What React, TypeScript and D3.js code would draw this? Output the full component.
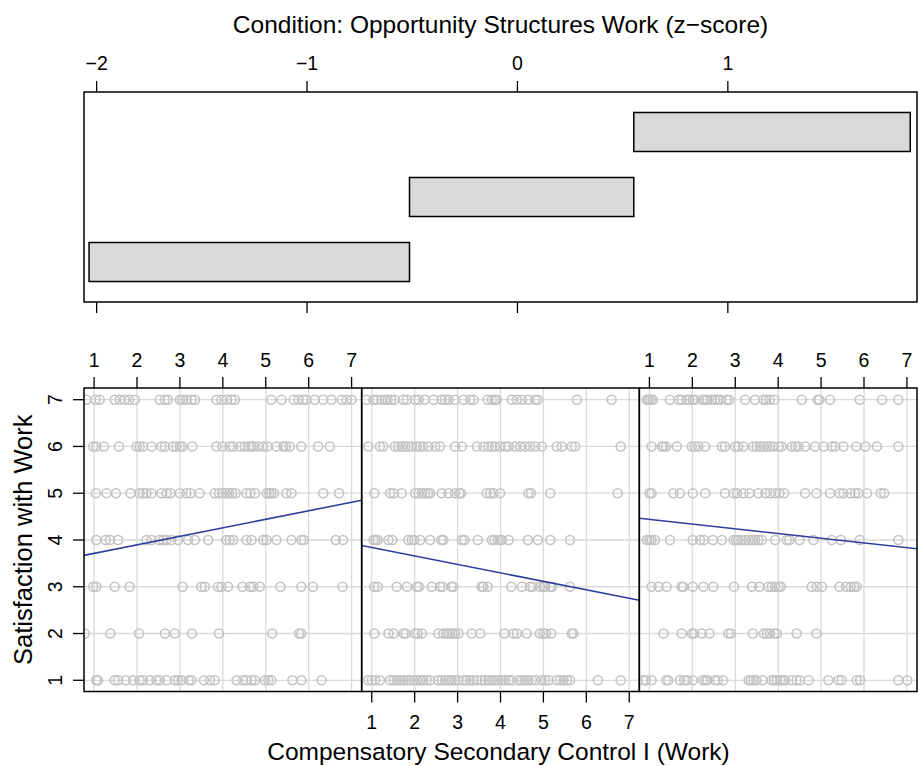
import React from 'react';
import * as d3 from 'd3';

const W = 919;
const H = 766;

// ---- top panel (shingle) ----
const topTicks = [-2, -1, 0, 1];
const topTickLabels = ['−2', '−1', '0', '1'];
const shingleLevels = [1, 2, 3];
const shingleLower = [-2.036, -0.513, 0.553];
const shingleUpper = [-0.513, 0.553, 1.867];

// ---- scatter panels ----
const xTicks = [1, 2, 3, 4, 5, 6, 7];
const yTicks = [1, 2, 3, 4, 5, 6, 7];

const lowPanelRows: [number, number[]][] = [
  [7, [0.82, 1.03, 1.13, 1.48, 1.6, 1.71, 1.82, 1.95, 2.53, 2.65, 2.72, 3.0, 3.06, 3.15, 3.27, 3.35, 3.85, 3.97, 4.09, 4.2, 4.28, 5.13, 5.37, 5.65, 5.76, 5.87, 5.95, 6.14, 6.34, 6.53, 6.77, 6.88, 7.0]],
  [6, [0.98, 1.05, 1.23, 1.58, 1.99, 2.06, 2.14, 2.34, 2.57, 2.65, 2.84, 2.92, 3.0, 3.06, 3.29, 3.85, 3.99, 4.16, 4.24, 4.4, 4.51, 4.61, 4.67, 4.72, 4.82, 4.94, 5.04, 5.25, 5.41, 5.47, 5.56, 5.83, 6.22, 6.49]],
  [5, [1.04, 1.29, 1.51, 1.85, 2.06, 2.14, 2.22, 2.34, 2.57, 2.69, 2.78, 3.0, 3.15, 3.25, 3.46, 3.81, 3.91, 3.99, 4.07, 4.15, 4.22, 4.3, 4.55, 4.64, 4.75, 5.02, 5.08, 5.13, 5.19, 5.48, 5.6, 6.34, 6.71]],
  [4, [1.05, 1.27, 1.37, 1.56, 2.22, 2.34, 2.52, 2.61, 2.69, 2.8, 2.96, 3.19, 3.35, 3.66, 4.08, 4.16, 4.24, 4.55, 4.67, 4.94, 5.02, 5.25, 5.6, 5.83, 5.89, 6.63, 6.8]],
  [3, [0.98, 1.05, 1.48, 1.83, 3.06, 3.5, 3.58, 3.89, 3.97, 4.12, 4.46, 4.63, 4.71, 4.86, 5.34, 5.83, 6.1, 6.79]],
  [2, [0.78, 1.38, 2.05, 2.65, 2.88, 3.28, 3.91, 5.15, 5.78, 5.83]],
  [1, [1.05, 1.09, 1.48, 1.56, 1.74, 1.91, 2.06, 2.14, 2.3, 2.45, 2.53, 2.69, 2.88, 2.96, 3.04, 3.21, 3.27, 3.56, 3.7, 3.81, 4.32, 4.47, 4.55, 4.67, 4.75, 4.98, 5.06, 5.13, 5.62, 5.83, 6.3]],
];

const midPanelRows: [number, number[]][] = [
  [7, [0.88, 1.04, 1.12, 1.23, 1.31, 1.37, 1.45, 1.53, 1.74, 1.82, 2.01, 2.09, 2.24, 2.44, 2.63, 2.71, 2.79, 2.94, 3.14, 3.29, 3.37, 3.7, 3.8, 3.87, 3.91, 4.26, 4.38, 4.5, 4.65, 4.81, 4.87, 5.78, 6.59]],
  [6, [0.92, 1.19, 1.27, 1.54, 1.62, 1.7, 1.78, 1.85, 1.93, 2.05, 2.13, 2.2, 2.32, 2.48, 2.59, 2.94, 3.1, 3.45, 3.6, 3.72, 3.8, 3.87, 3.99, 4.11, 4.19, 4.34, 4.46, 4.57, 4.69, 4.81, 4.96, 5.31, 5.43, 5.66, 5.74, 6.8]],
  [5, [1.06, 1.43, 1.51, 1.7, 2.01, 2.09, 2.17, 2.24, 2.31, 2.36, 2.63, 2.79, 2.94, 3.04, 3.08, 3.68, 3.76, 3.84, 3.99, 4.65, 4.71, 5.16, 6.73]],
  [4, [1.04, 1.09, 1.14, 1.39, 1.48, 1.85, 1.93, 1.99, 2.13, 2.36, 2.62, 2.67, 3.1, 3.16, 3.47, 3.8, 3.86, 3.94, 3.99, 4.03, 4.19, 4.64, 4.87, 5.16, 5.62]],
  [3, [1.06, 1.14, 1.58, 1.82, 2.05, 2.1, 2.4, 2.59, 2.65, 2.86, 2.9, 3.56, 3.6, 3.7, 4.25, 4.5, 4.69, 4.75, 4.92, 5.0, 5.04, 5.16, 5.2, 5.62]],
  [2, [1.06, 1.39, 1.51, 1.74, 1.79, 2.01, 2.07, 2.17, 2.55, 2.67, 2.75, 2.8, 2.88, 2.94, 3.02, 3.33, 3.53, 4.09, 4.3, 4.38, 4.61, 4.92, 5.0, 5.06, 5.18, 5.66, 5.7]],
  [1, [0.92, 1.0, 1.08, 1.19, 1.43, 1.51, 1.58, 1.66, 1.74, 1.82, 1.89, 1.97, 2.05, 2.13, 2.2, 2.28, 2.36, 2.55, 2.63, 2.71, 2.79, 2.86, 2.94, 3.02, 3.14, 3.21, 3.29, 3.37, 3.45, 3.56, 3.64, 3.72, 3.8, 3.87, 3.95, 4.03, 4.11, 4.19, 4.26, 4.42, 4.5, 4.57, 4.65, 4.73, 4.81, 4.96, 5.04, 5.12, 5.31, 5.39, 5.47, 5.55, 5.62, 6.27, 6.8]],
];

const highPanelRows: [number, number[]][] = [
  [7, [0.94, 0.98, 1.03, 1.08, 1.48, 1.68, 1.75, 1.87, 1.93, 2.01, 2.06, 2.24, 2.3, 2.35, 2.45, 2.53, 2.59, 2.65, 2.8, 2.86, 3.23, 3.46, 3.66, 3.72, 3.8, 3.91, 4.55, 4.92, 4.96, 5.21, 5.9, 6.42, 6.8]],
  [6, [1.05, 1.29, 1.33, 1.39, 1.64, 1.99, 2.06, 2.14, 2.3, 2.69, 2.76, 3.0, 3.07, 3.19, 3.42, 3.5, 3.58, 3.66, 3.74, 3.81, 3.89, 4.01, 4.08, 4.32, 4.4, 4.47, 4.63, 4.86, 5.06, 5.25, 5.33, 5.52, 5.82, 6.03, 6.3, 6.8]],
  [5, [1.0, 1.05, 1.56, 1.71, 2.01, 2.3, 2.76, 2.96, 3.04, 3.19, 3.33, 3.54, 3.7, 3.81, 3.93, 4.03, 4.14, 4.63, 4.89, 5.21, 5.43, 5.52, 5.68, 5.79, 5.87, 6.07, 6.39, 6.47]],
  [4, [0.94, 1.0, 1.05, 1.13, 1.48, 2.01, 2.18, 2.27, 2.48, 2.69, 2.96, 3.02, 3.07, 3.15, 3.23, 3.31, 3.39, 3.46, 3.54, 3.62, 3.93, 4.2, 4.26, 4.5, 4.82, 5.25, 5.46, 5.9, 6.8]],
  [3, [1.05, 1.21, 1.4, 1.75, 1.79, 2.01, 2.26, 2.49, 2.97, 3.39, 3.56, 3.77, 3.85, 3.93, 4.01, 4.06, 4.78, 4.9, 5.02, 5.43, 5.58, 5.69, 5.77, 5.83]],
  [2, [1.33, 1.75, 1.99, 2.04, 2.22, 2.4, 2.84, 2.9, 3.41, 3.67, 3.74, 3.81, 3.91, 3.97, 4.43, 4.89]],
  [1, [0.86, 0.92, 1.05, 1.39, 1.44, 1.71, 1.81, 1.87, 2.01, 2.24, 2.3, 2.35, 2.53, 2.59, 2.72, 3.31, 3.36, 3.42, 3.49, 3.64, 3.85, 3.91, 3.97, 4.05, 4.11, 4.16, 4.32, 4.43, 4.51, 4.71, 5.17, 5.41, 5.48, 5.83, 5.91, 6.8, 7.01]],
];

const panelRows = [lowPanelRows, midPanelRows, highPanelRows];
const regressionIntercepts = [3.53, 4.02, 4.54];
const regressionSlopes = [0.1824, -0.181, -0.1005];

const titleText = 'Condition: Opportunity Structures Work (z−score)';
const xTitleText = 'Compensatory Secondary Control I (Work)';
const yTitleText = 'Satisfaction with Work';

// ---- layout ----
const FONT = '"Liberation Sans", Arial, Helvetica, sans-serif';
const boxLeft = 84;
const boxRight = 917;
const topBoxTop = 92;
const topBoxBottom = 302;
const panelTop = 388;
const panelBottom = 691.5;
const panelW = (boxRight - boxLeft) / 3;
const tickLen = 11;
const tickFont = 19.5;
const titleFont = 24.5;
const yTitleFont = 25.5;

const GRID = '#dadada';
const POINT = '#c4c4c4';
const LINE = '#2c3f9c';

export default function App() {
  const topX = d3.scaleLinear().domain([-2.06, 1.899]).range([boxLeft, boxRight]);
  const topY = d3.scaleLinear().domain([0.385, 3.615]).range([topBoxBottom, topBoxTop]);
  const yScale = d3.scaleLinear().domain([0.76, 7.25]).range([panelBottom, panelTop]);
  const xScales = [0, 1, 2].map((i) =>
    d3.scaleLinear().domain([0.765, 7.235]).range([boxLeft + i * panelW, boxLeft + (i + 1) * panelW])
  );
  const barHalf = 0.3;

  return (
    <svg width={W} height={H} style={{ position: 'absolute', left: 0, top: 0, background: '#fff' }} fontFamily={FONT}>
      <rect x={0} y={0} width={W} height={H} fill="#fff" />
      {/* title */}
      <text x={(boxLeft + boxRight) / 2} y={33} textAnchor="middle" fontSize={titleFont} fill="#000">
        {titleText}
      </text>
      {/* top panel */}
      {topTicks.map((t, i) => (
        <g key={'tt' + i}>
          <line x1={topX(t)} x2={topX(t)} y1={topBoxTop} y2={topBoxTop - tickLen} stroke="#000" strokeWidth={1.3} />
          <text x={topX(t)} y={70} textAnchor="middle" fontSize={tickFont}>{topTickLabels[i]}</text>
          <line x1={topX(t)} x2={topX(t)} y1={topBoxBottom} y2={topBoxBottom + tickLen} stroke="#000" strokeWidth={1.3} />
        </g>
      ))}
      {shingleLevels.map((lv, i) => (
        <rect
          key={'sh' + i}
          x={topX(shingleLower[i])}
          width={topX(shingleUpper[i]) - topX(shingleLower[i])}
          y={topY(lv + barHalf)}
          height={topY(lv - barHalf) - topY(lv + barHalf)}
          fill="#d9d9d9"
          stroke="#000"
          strokeWidth={1.5}
        />
      ))}
      <rect x={boxLeft} y={topBoxTop} width={boxRight - boxLeft} height={topBoxBottom - topBoxTop} fill="none" stroke="#000" strokeWidth={1.5} />

      {/* scatter panels */}
      {xScales.map((xs, p) => {
        const [x0, x1] = xs.range();
        const rows = panelRows[p];
        const dom = xs.domain();
        const a = regressionIntercepts[p];
        const b = regressionSlopes[p];
        const lineGen = d3.line<number>().x((v) => xs(v)).y((v) => yScale(a + b * v));
        const clipId = 'clip' + p;
        return (
          <g key={'p' + p}>
            <clipPath id={clipId}>
              <rect x={x0} y={panelTop} width={x1 - x0} height={panelBottom - panelTop} />
            </clipPath>
            <g clipPath={`url(#${clipId})`}>
              {xTicks.map((t) => (
                <line key={'gx' + t} x1={xs(t)} x2={xs(t)} y1={panelTop} y2={panelBottom} stroke={GRID} strokeWidth={1.3} />
              ))}
              {yTicks.map((t) => (
                <line key={'gy' + t} x1={x0} x2={x1} y1={yScale(t)} y2={yScale(t)} stroke={GRID} strokeWidth={1.3} />
              ))}
              {rows.map(([yv, xsArr]) =>
                xsArr.map((xv, k) => (
                  <circle key={`c${yv}-${k}`} cx={xs(xv)} cy={yScale(yv)} r={4.5} fill="none" stroke={POINT} strokeWidth={1.6} />
                ))
              )}
              <path d={lineGen(dom) || ''} fill="none" stroke={LINE} strokeWidth={1.6} />
            </g>
            <rect x={x0} y={panelTop} width={x1 - x0} height={panelBottom - panelTop} fill="none" stroke="#000" strokeWidth={1.5} />
            {p !== 1
              ? xTicks.map((t) => (
                  <g key={'xt' + t}>
                    <line x1={xs(t)} x2={xs(t)} y1={panelTop} y2={panelTop - tickLen} stroke="#000" strokeWidth={1.3} />
                    <text x={xs(t)} y={366.5} textAnchor="middle" fontSize={tickFont}>{t}</text>
                  </g>
                ))
              : xTicks.map((t) => (
                  <g key={'xb' + t}>
                    <line x1={xs(t)} x2={xs(t)} y1={panelBottom} y2={panelBottom + tickLen} stroke="#000" strokeWidth={1.3} />
                    <text x={xs(t)} y={729} textAnchor="middle" fontSize={tickFont}>{t}</text>
                  </g>
                ))}
          </g>
        );
      })}
      {/* y axis */}
      {yTicks.map((t) => (
        <g key={'yt' + t}>
          <line x1={boxLeft} x2={boxLeft - tickLen} y1={yScale(t)} y2={yScale(t)} stroke="#000" strokeWidth={1.3} />
          <text transform={`translate(62,${yScale(t)}) rotate(-90)`} textAnchor="middle" fontSize={tickFont}>{t}</text>
        </g>
      ))}
      <text transform={`translate(31.5,${(panelTop + panelBottom) / 2}) rotate(-90)`} textAnchor="middle" fontSize={yTitleFont}>
        {yTitleText}
      </text>
      <text x={(boxLeft + boxRight) / 2 - 2} y={759.5} textAnchor="middle" fontSize={titleFont}>
        {xTitleText}
      </text>
    </svg>
  );
}
